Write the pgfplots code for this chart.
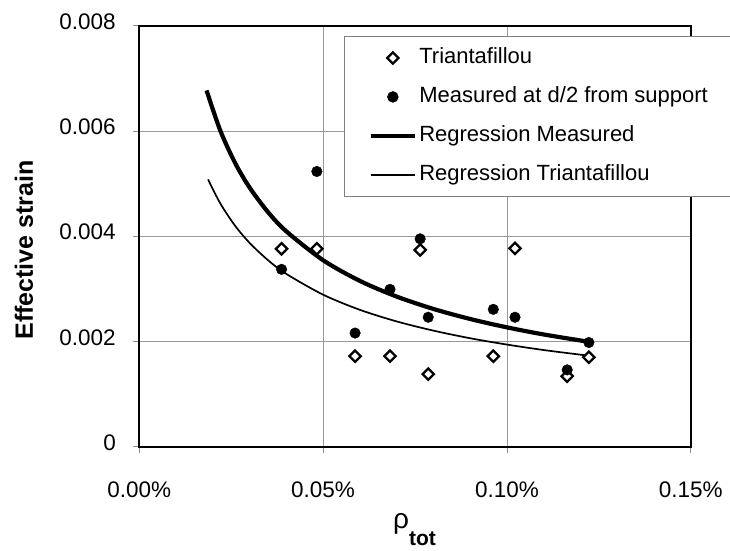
\documentclass[border=0pt]{standalone}
\usepackage{fontspec}
\setmainfont{Liberation Sans}
\usepackage{pgfplots}
\pgfplotsset{compat=1.18}

\pgfplotsset{
  linelegend/.style={legend image code/.code={\draw[##1] (0pt,0pt) -- (44.7pt,0pt);}},
  marklegend/.style={legend image code/.code={\draw[mark repeat=2,mark phase=2,##1] plot coordinates {(0pt,0pt) (22.35pt,0pt) (44.7pt,0pt)};}},
  diamondmark/.style={only marks, mark=square*, mark size=4pt,
    mark options={rotate=45, fill=white, draw=black, line width=2.3pt}},
  dotmark/.style={only marks, mark=*, mark size=5.3pt, mark options={fill=black, draw=black}},
  thickfit/.style={no marks, line width=4.2pt, black},
  thinfit/.style={no marks, line width=1.7pt, black},
}

\begin{document}
\begin{tikzpicture}
\useasboundingbox (-139.3pt,-103.3pt) rectangle (590.7pt,446.7pt);
\begin{axis}[
  at={(0pt,0pt)}, anchor=south west,
  scale only axis, width=551.4pt, height=421pt,
  xmin=0, xmax=0.15, ymin=0, ymax=0.008,
  scaled x ticks=false, scaled y ticks=false,
  xtick={0,0.05,0.1,0.15}, xticklabels={0.00\%,0.05\%,0.10\%,0.15\%},
  ytick={0,0.002,0.004,0.006,0.008}, yticklabels={0,0.002,0.004,0.006,0.008},
  xtick pos=left, ytick pos=left,
  tick align=outside, major tick length=6pt,
  tick style={line width=0.7pt, black!45},
  grid=major, grid style={line width=0.8pt, black!40},
  axis line style={line width=2.2pt},
  ticklabel style={font=\fontsize{22.5}{22.5}\selectfont},
  xticklabel style={anchor=base, yshift=-44.3pt},
  yticklabel style={anchor=east, xshift=-14pt, yshift=4pt},
  legend cell align=left,
  legend style={at={(0.3718,0.9755)}, anchor=north west,
    draw=black!50, line width=0.8pt, inner xsep=23.7pt, inner ysep=2pt,
    font=\fontsize{22}{22}\selectfont,
    nodes={text height=16pt, text depth=5pt, inner ysep=9pt, inner xsep=2pt}},
]
% legend entries
\addlegendimage{diamondmark, marklegend}
\addlegendentry{Triantafillou}
\addlegendimage{dotmark, marklegend}
\addlegendentry{Measured at d/2 from support}
\addlegendimage{thickfit, linelegend}
\addlegendentry{Regression Measured}
\addlegendimage{thinfit, linelegend}
\addlegendentry{Regression Triantafillou}

% regression curve, measured strains
\addplot[thickfit, smooth, forget plot] coordinates {
  (0.0183,0.006770) (0.022,0.006013) (0.026,0.005400) (0.030,0.004925)
  (0.035,0.004459) (0.040,0.004092) (0.050,0.003544) (0.060,0.003151)
  (0.070,0.002853) (0.080,0.002618) (0.090,0.002427) (0.100,0.002268)
  (0.110,0.002133) (0.1223,0.001993)};
% regression curve, Triantafillou model
\addplot[thinfit, smooth, forget plot] coordinates {
  (0.0187,0.005080) (0.022,0.004627) (0.026,0.004204) (0.030,0.003873)
  (0.035,0.003545) (0.040,0.003283) (0.050,0.002889) (0.060,0.002601)
  (0.070,0.002381) (0.080,0.002206) (0.090,0.002061) (0.100,0.001941)
  (0.110,0.001837) (0.1223,0.001729)};
% Triantafillou predictions
\addplot[diamondmark, forget plot] coordinates {
  (0.0387,0.00376) (0.0483,0.00376) (0.0587,0.00172) (0.0682,0.00172)
  (0.0764,0.00374) (0.0786,0.00138) (0.0963,0.00172) (0.1022,0.00377)
  (0.1164,0.00134) (0.1223,0.00170)};
% measured at d/2 from support
\addplot[dotmark, forget plot] coordinates {
  (0.0387,0.00337) (0.0483,0.00523) (0.0587,0.00216) (0.0682,0.00299)
  (0.0764,0.00395) (0.0786,0.00246) (0.0963,0.00261) (0.1022,0.00246)
  (0.1164,0.00146) (0.1223,0.00198)};
\end{axis}
\node[rotate=90, anchor=base, inner sep=0pt, font=\fontsize{25}{25}\selectfont\bfseries]
  at (-106.3pt,196.7pt) {Effective strain};
\node[anchor=base west, inner sep=0pt] at (253.7pt,-81.3pt)
  {\fontsize{28}{28}\selectfont ρ\raisebox{-17pt}{\fontsize{21}{21}\selectfont\bfseries tot}};
\end{tikzpicture}
\end{document}
